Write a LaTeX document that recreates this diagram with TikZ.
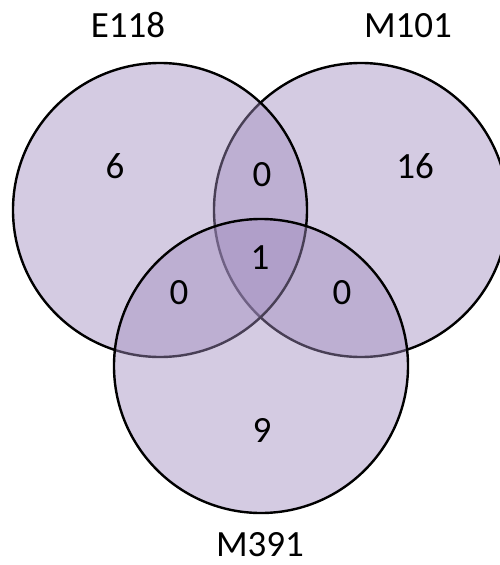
\documentclass[tikz,border=0pt]{standalone}
\usepackage{fontspec}
\setmainfont{Carlito}
\definecolor{vennfill}{RGB}{160,140,190}
\tikzset{
  venn/.style={draw=black, line width=2.4pt, fill=vennfill, fill opacity=0.45},
  lbl/.style={font=\fontsize{37}{40}\selectfont, inner sep=0pt, text height=23pt, text depth=0pt, anchor=center}
}
\begin{document}
\begin{tikzpicture}[x=1pt,y=-1pt]
\useasboundingbox (0,0) rectangle (499,565);
\path[venn] (361,210) circle[radius=147];
\path[venn] (160,210) circle[radius=147];
\path[venn] (261,366) circle[radius=147];
\node[lbl] (lE) at (128,26) {E118};
\node[lbl] (lM1) at (408,26) {M101};
\node[lbl] (lM3) at (260,545) {M391};
\node[lbl] (n6) at (115,167) {6};
\node[lbl] (n16) at (415,167) {16};
\node[lbl] (n0a) at (262,175) {0};
\node[lbl] (n1) at (260,258) {1};
\node[lbl] (n0b) at (179,293) {0};
\node[lbl] (n0c) at (342,293) {0};
\node[lbl] (n9) at (262,431) {9};
\end{tikzpicture}
\end{document}
